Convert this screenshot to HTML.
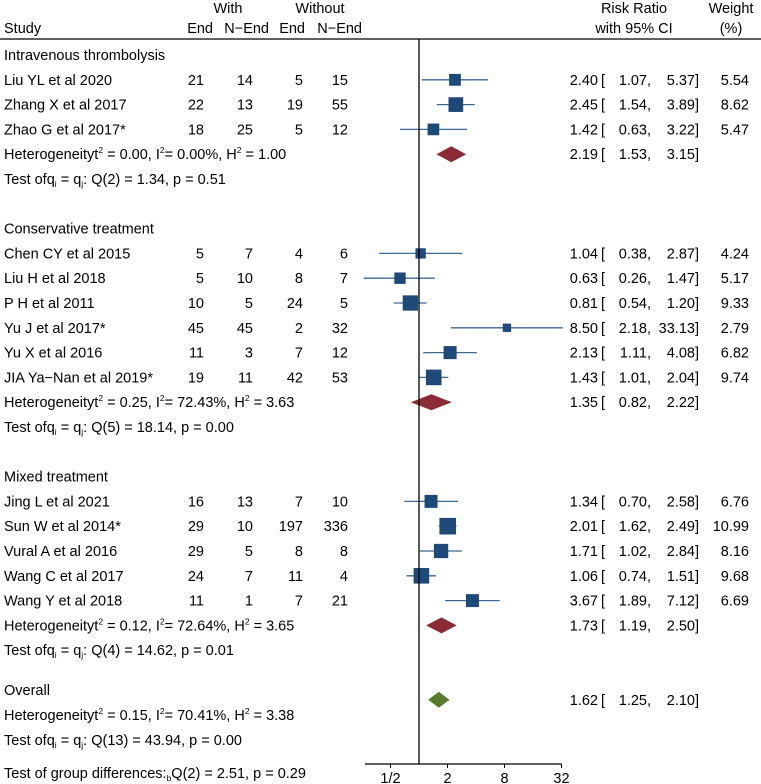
<!DOCTYPE html>
<html><head><meta charset="utf-8">
<style>
html,body{margin:0;padding:0;background:#fff;}
svg{display:block;font-family:"Liberation Sans",Arial,sans-serif;font-size:14.5px;fill:#000;}
</style></head>
<body>
<svg id="plot" width="761" height="784" viewBox="0 0 761 784" xmlns="http://www.w3.org/2000/svg">
<g>
<text x="228" y="13" text-anchor="middle">With</text>
<text x="320" y="13" text-anchor="middle">Without</text>
<text x="4" y="33">Study</text>
<text x="213" y="33" text-anchor="end">End</text>
<text x="269" y="33" text-anchor="end">N−End</text>
<text x="305" y="33" text-anchor="end">End</text>
<text x="362" y="33" text-anchor="end">N−End</text>
<text x="634" y="13" text-anchor="middle">Risk Ratio</text>
<text x="634" y="33" text-anchor="middle">with 95% CI</text>
<text x="731" y="13" text-anchor="middle">Weight</text>
<text x="731" y="33" text-anchor="middle">(%)</text>
<line x1="0" y1="39" x2="761" y2="39" stroke="#000" stroke-width="1.2"/>
</g>
<g id="rows"></g>
</svg>
<script>
const studyNames = ["Liu YL et al 2020","Zhang X et al 2017","Zhao G et al 2017*","Chen CY et al 2015","Liu H et al 2018","P H et al 2011","Yu J et al 2017*","Yu X et al 2016","JIA Ya−Nan et al 2019*","Jing L et al 2021","Sun W et al 2014*","Vural A et al 2016","Wang C et al 2017","Wang Y et al 2018"];
const withEnd = [21,22,18,5,5,10,45,11,19,16,29,29,24,11];
const withNEnd = [14,13,25,7,10,5,45,3,11,13,10,5,7,1];
const withoutEnd = [5,19,5,4,8,24,2,7,42,7,197,8,11,7];
const withoutNEnd = [15,55,12,6,7,5,32,12,53,10,336,8,4,21];
const rr = [2.40,2.45,1.42,1.04,0.63,0.81,8.50,2.13,1.43,1.34,2.01,1.71,1.06,3.67];
const lo = [1.07,1.54,0.63,0.38,0.26,0.54,2.18,1.11,1.01,0.70,1.62,1.02,0.74,1.89];
const hi = [5.37,3.89,3.22,2.87,1.47,1.20,33.13,4.08,2.04,2.58,2.49,2.84,1.51,7.12];
const weights = [5.54,8.62,5.47,4.24,5.17,9.33,2.79,6.82,9.74,6.76,10.99,8.16,9.68,6.69];
const groupNames = ["Intravenous thrombolysis","Conservative treatment","Mixed treatment"];
const groupStudies = [[0,1,2],[3,4,5,6,7,8],[9,10,11,12,13]];
const groupRR = [2.19,1.35,1.73];
const groupLo = [1.53,0.82,1.19];
const groupHi = [3.15,2.22,2.50];
const groupTau = ["0.00","0.25","0.12"];
const groupI2 = ["0.00","72.43","72.64"];
const groupH2 = ["1.00","3.63","3.65"];
const groupQ = ["Q(2) = 1.34, p = 0.51","Q(5) = 18.14, p = 0.00","Q(4) = 14.62, p = 0.01"];
const overallRR = 1.62, overallLo = 1.25, overallHi = 2.10;
const tickValues = [0.5,2,8,32];
const tickLabels = ["1/2","2","8","32"];

const NS="http://www.w3.org/2000/svg";
const root=document.getElementById('rows');
const X0=419, PX=28.5;
function xs(v){return X0+Math.log2(v)*PX;}
const Y0=55, DY=24.8;
function ys(i){return Y0+i*DY;}
function mk(tag,attrs,parent){const e=document.createElementNS(NS,tag);for(const k in attrs)e.setAttribute(k,attrs[k]);(parent||root).appendChild(e);return e;}
function txt(x,y,s,anchor,parent){const t=mk('text',{x:x,y:y+5,'text-anchor':anchor||'start'},parent);t.innerHTML=s;return t;}
function f2(v){return v.toFixed(2);}
function ciText(y,r,l,h,name){
  const g=mk('g',{});
  
  
  txt(598,y,f2(r),"end",g);
  txt(601,y,"[","start",g);
  txt(651,y,f2(l)+",","end",g);
  txt(699,y,f2(h)+"]","end",g);
}
function diamond(y,r,l,h,color,name){
  const p=mk('polygon',{points:`${xs(l)},${y} ${xs(r)},${y-8} ${xs(h)},${y} ${xs(r)},${y+8}`,fill:color});
  
  
}
const SUP=(s)=>`<tspan dy="-6" font-size="8.5">${s}</tspan><tspan dy="6">`;
let row=0;
groupNames.forEach((gn,gi)=>{
  const gt=txt(4,ys(row),gn);
  
  
  row++;
  groupStudies[gi].forEach(si=>{
    const y=ys(row);
    const st=txt(4,y,studyNames[si]);
    
    
    txt(204,y,withEnd[si],'end');
    txt(253,y,withNEnd[si],'end');
    txt(303,y,withoutEnd[si],'end');
    txt(348,y,withoutNEnd[si],'end');
    const ln=mk('line',{x1:xs(lo[si]),x2:xs(hi[si]),y1:y,y2:y,stroke:'#3f6892','stroke-width':1.3});
    
    
    const s=5*Math.sqrt(weights[si]);
    const sq=mk('rect',{x:xs(rr[si])-s/2,y:y-s/2,width:s,height:s,fill:'#1d4a78'});
    
    
    ciText(y,rr[si],lo[si],hi[si],'study-ci');
    const wt=txt(749,y,f2(weights[si]),'end');
    
    
    row++;
  });
  const y=ys(row);
  const ht=txt(4,y,`Heterogeneityt${SUP(2)} = ${groupTau[gi]}, I</tspan>${SUP(2)}= ${groupI2[gi]}%, H</tspan>${SUP(2)} = ${groupH2[gi]}</tspan>`);
  
  
  diamond(y,groupRR[gi],groupLo[gi],groupHi[gi],'#8b2b35','subgroup-diamond');
  ciText(y,groupRR[gi],groupLo[gi],groupHi[gi],'subgroup-ci');
  row++;
  const tt=txt(4,ys(row),`Test ofq<tspan dy="3" font-size="8.5">i</tspan><tspan dy="-3"> = q</tspan><tspan dy="3" font-size="8.5">j</tspan><tspan dy="-3">: ${groupQ[gi]}</tspan>`);
  
  
  row+=2;
});
const y=ys(26);
const ot=txt(4,y-10,"Overall");


diamond(y,overallRR,overallLo,overallHi,'#5a7a2c','overall-diamond');
ciText(y,overallRR,overallLo,overallHi,'overall-ci');
const oh=txt(4,715,`Heterogeneityt${SUP(2)} = 0.15, I</tspan>${SUP(2)}= 70.41%, H</tspan>${SUP(2)} = 3.38</tspan>`);


const otest=txt(4,740,`Test ofq<tspan dy="3" font-size="8.5">i</tspan><tspan dy="-3"> = q</tspan><tspan dy="3" font-size="8.5">j</tspan><tspan dy="-3">: Q(13) = 43.94, p = 0.00</tspan>`);


const gd=txt(4,773,`Test of group differences:<tspan dy="3" font-size="8.5">b</tspan><tspan dy="-3">Q(2) = 2.51, p = 0.29</tspan>`);


const AY=764;
const nl=mk('line',{x1:X0,x2:X0,y1:39,y2:AY,stroke:'#000','stroke-width':1.3});


const ax=mk('line',{x1:365,x2:xs(32),y1:AY,y2:AY,stroke:'#000','stroke-width':1.2});


tickValues.forEach((v,i)=>{
  const tk=mk('line',{x1:xs(v),x2:xs(v),y1:AY,y2:AY+4,stroke:'#000','stroke-width':1});
  
  
  const tl=txt(xs(v),AY+14,tickLabels[i],'middle');
  
  
});
</script>
</body></html>
